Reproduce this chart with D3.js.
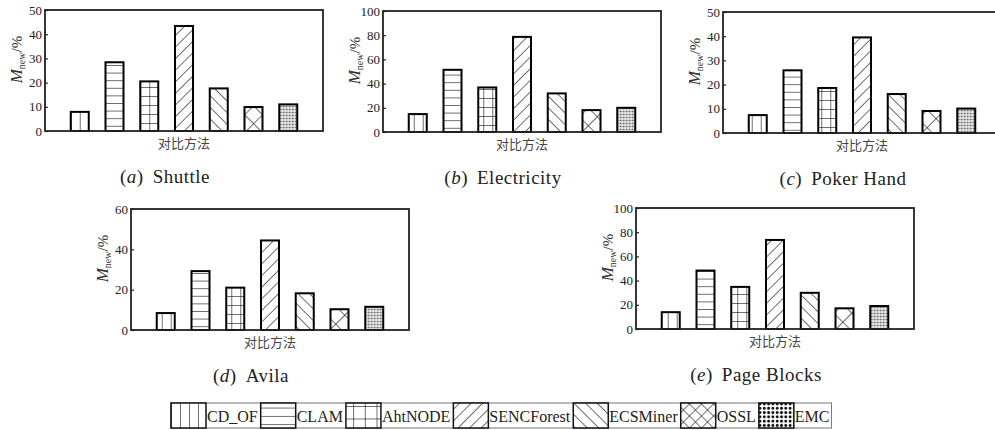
<!DOCTYPE html>
<meta charset="utf-8">
<style>
body { margin: 0; background: #fff; }
svg { display: block; }
.tick text { font-family: "Liberation Serif", "Times New Roman", serif; font-size: 13px; fill: #222; }
.tick line { stroke: #222; stroke-width: 1.2; }
.xlab { font-family: "Noto Sans CJK SC", sans-serif; font-size: 13px; fill: #444; text-anchor: middle; }
.ylab { font-family: "Liberation Serif", "Times New Roman", serif; fill: #333; text-anchor: middle; }
.title { font-family: "Liberation Serif", "Times New Roman", serif; font-size: 19px; fill: #222; text-anchor: middle; letter-spacing: 0.5px; }
.legend text { font-family: "Liberation Serif", "Times New Roman", serif; font-size: 16px; fill: #222; }
</style>
<body>
<script src="https://cdn.jsdelivr.net/npm/d3@7"></script>
<script>

var methods = ["CD_OF", "CLAM", "AhtNODE", "SENCForest", "ECSMiner", "OSSL", "EMC"];
var datasets = ["Shuttle", "Electricity", "Poker Hand", "Avila", "Page Blocks"];
var letters = ["a", "b", "c", "d", "e"];

var shuttle     = [7.9, 28.4, 20.5, 43.4, 17.6, 9.9, 11.0];
var electricity = [14.8, 51.4, 36.8, 78.6, 31.9, 18.1, 20.0];
var pokerHand   = [7.4, 25.9, 18.6, 39.5, 16.1, 9.1, 10.1];
var avila       = [8.4, 29.2, 21.0, 44.4, 18.2, 10.3, 11.5];
var pageBlocks  = [13.9, 48.3, 34.8, 73.6, 29.9, 17.1, 19.0];

var yTicks = [
  [0, 10, 20, 30, 40, 50],
  [0, 20, 40, 60, 80, 100],
  [0, 10, 20, 30, 40, 50],
  [0, 20, 40, 60],
  [0, 20, 40, 60, 80, 100]
];

var values = [shuttle, electricity, pokerHand, avila, pageBlocks];

// panel frames on the page
var layout = [
  {left: 45,  top: 10},
  {left: 383, top: 11},
  {left: 723, top: 12},
  {left: 131, top: 209},
  {left: 636, top: 208}
];
var pw = 278, ph = 121;

var kinds = ["vert", "horiz", "grid", "up", "down", "cross", "dots"];

var svg = d3.select("body").append("svg")
    .attr("width", 995)
    .attr("height", 430);

var defs = svg.append("defs");

function makePattern(id, kind, tx, ty, big) {
  var p = defs.append("pattern")
      .attr("id", id)
      .attr("patternUnits", "userSpaceOnUse");
  var s, w, h;
  if (kind == "vert") {
    w = 9; h = 10;
    p.attr("patternTransform", "translate(" + tx + "," + ty + ")");
    p.append("rect").attr("width", w).attr("height", h).attr("fill", "#fff");
    p.append("line").attr("x1", 0).attr("x2", 0).attr("y1", 0).attr("y2", h);
  } else if (kind == "horiz") {
    w = 10; h = big ? 8.3 : 7.6;
    p.attr("patternTransform", "translate(" + tx + "," + ty + ")");
    p.append("rect").attr("width", w).attr("height", h).attr("fill", "#fff");
    p.append("line").attr("x1", 0).attr("x2", w).attr("y1", 0).attr("y2", 0);
  } else if (kind == "grid") {
    w = big ? 11.7 : 9; h = big ? 12.5 : 9;
    p.attr("patternTransform", "translate(" + tx + "," + ty + ")");
    p.append("rect").attr("width", w).attr("height", h).attr("fill", "#fff");
    p.append("line").attr("x1", 0).attr("x2", 0).attr("y1", 0).attr("y2", h);
    p.append("line").attr("x1", 0).attr("x2", w).attr("y1", 0).attr("y2", 0);
  } else if (kind == "up" || kind == "down") {
    w = 8.2; h = 10;
    p.attr("patternTransform", "translate(" + tx + "," + ty + ") rotate(" + (kind == "up" ? 45 : -45) + ")");
    p.append("rect").attr("width", w).attr("height", h).attr("fill", "#fff");
    p.append("line").attr("x1", 0).attr("x2", 0).attr("y1", 0).attr("y2", h);
  } else if (kind == "cross") {
    s = big ? 8.5 : 12.7;
    w = s; h = s;
    p.attr("patternTransform", "translate(" + tx + "," + ty + ") rotate(45)");
    p.append("rect").attr("width", w).attr("height", h).attr("fill", "#fff");
    p.append("line").attr("x1", 0).attr("x2", 0).attr("y1", 0).attr("y2", h);
    p.append("line").attr("x1", 0).attr("x2", w).attr("y1", 0).attr("y2", 0);
  } else {
    s = big ? 4.3 : 3;
    w = s; h = s;
    p.attr("patternTransform", "translate(" + tx + "," + ty + ")");
    p.append("rect").attr("width", w).attr("height", h).attr("fill", "#fff");
    if (big) p.append("circle").attr("cx", s / 2).attr("cy", s / 2).attr("r", 1.4).attr("fill", "#000");
    else p.append("rect").attr("x", 0.6).attr("y", 0.6).attr("width", 1.8).attr("height", 1.8).attr("fill", "#555");
  }
  p.attr("width", w).attr("height", h);
  p.selectAll("line").attr("stroke", "#111").attr("stroke-width", 1.2);
  return "url(#" + id + ")";
}

var x = d3.scaleBand()
    .domain(methods)
    .range([0, pw])
    .paddingInner(0.482)
    .paddingOuter(0.741);

datasets.forEach(function(name, k) {
  var L = layout[k];
  var ticks = yTicks[k];
  var y = d3.scaleLinear()
      .domain([0, d3.max(ticks)])
      .range([ph, 0]);

  var g = svg.append("g")
      .attr("transform", "translate(" + L.left + "," + L.top + ")");

  g.append("g")
      .call(d3.axisLeft(y).tickValues(ticks).tickSizeInner(-3).tickSizeOuter(0).tickPadding(3))
      .attr("font-family", null)
      .attr("font-size", null)
    .call(function(a) { a.select(".domain").remove(); });

  g.selectAll(".bar")
      .data(values[k])
    .enter().append("rect")
      .attr("class", "bar")
      .attr("x", function(d, i) { return x(methods[i]); })
      .attr("y", function(d) { return y(d); })
      .attr("width", x.bandwidth())
      .attr("height", function(d) { return ph - y(d); })
      .attr("fill", function(d, i) {
        return makePattern("p" + k + "_" + i, kinds[i], L.left + x(methods[i]), L.top + ph, false);
      })
      .attr("stroke", "#000")
      .attr("stroke-width", 2);

  g.append("rect")
      .attr("width", pw)
      .attr("height", ph)
      .attr("fill", "none")
      .attr("stroke", "#222")
      .attr("stroke-width", 1.8);

  g.append("text")
      .attr("class", "xlab")
      .attr("x", pw / 2)
      .attr("y", ph + 17)
      .text("对比方法");

  var yl = g.append("text")
      .attr("class", "ylab")
      .attr("transform", "translate(-23," + (ph * 0.41) + ") rotate(-90)");
  yl.append("tspan").style("font-style", "italic").style("font-size", "17px").text("M");
  yl.append("tspan").style("font-size", "10px").attr("dy", 3).text("new");
  yl.append("tspan").style("font-size", "15px").attr("dy", -3).text("/%");

  var t = g.append("text")
      .attr("class", "title")
      .attr("x", pw / 2 - 19)
      .attr("y", ph + 52);
  t.append("tspan").text("(");
  t.append("tspan").style("font-style", "italic").text(letters[k]);
  t.append("tspan").text(")");
  t.append("tspan").attr("dx", 9).text(name);
});

// legend
var lg = svg.append("g").attr("class", "legend").attr("transform", "translate(171,403)");
var box = lg.append("rect")
    .attr("height", 25)
    .attr("fill", "#fff")
    .attr("stroke", "#777")
    .attr("stroke-width", 1);
var cx = 0;
methods.forEach(function(m, i) {
  lg.append("rect")
      .attr("x", cx)
      .attr("y", 0)
      .attr("width", 35)
      .attr("height", 25)
      .attr("fill", makePattern("lg" + i, kinds[i], 171 + cx, 403, true))
      .attr("stroke", "#111")
      .attr("stroke-width", 1.5);
  var tx = lg.append("text")
      .attr("x", cx + 36)
      .attr("y", 19)
      .text(m);
  cx += 36 + tx.node().getComputedTextLength() + 3;
});
box.attr("width", cx - 1);

</script>
